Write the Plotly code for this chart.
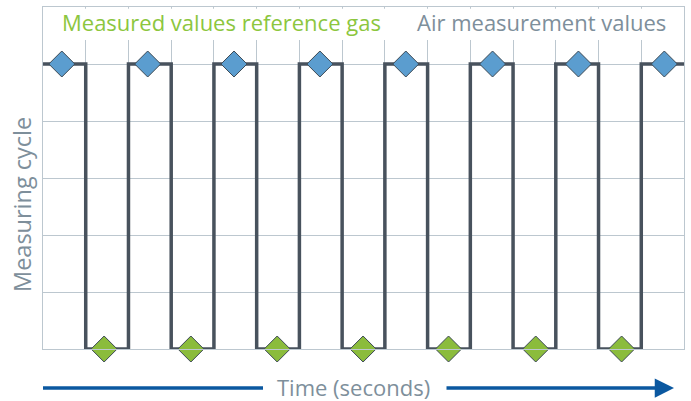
import plotly.graph_objects as go

# Square-wave measuring cycle: level per time interval (0 = low, 5 = high)
cycle_edges = list(range(0, 16))
cycle_levels = [5, 0, 5, 0, 5, 0, 5, 0, 5, 0, 5, 0, 5, 0, 5]

# Diamond markers
air_x = [0.44, 2.45, 4.47, 6.48, 8.49, 10.52, 12.53, 14.54]
air_y = [5] * 8
ref_x = [1.43, 3.46, 5.48, 7.49, 9.49, 11.53, 13.54]
ref_y = [0] * 7

label_ref = "Measured values reference gas"
label_air = "Air measurement values"
x_title = "Time (seconds)"
y_title = "Measuring cycle"

FONT = "Open Sans"
GRID = "#BCC7CF"
TXT = "#7E8F9B"
GREEN_T = "#8CC63E"
ARROW = "#0B58A0"

# build step path
wx, wy = [], []
for i, lvl in enumerate(cycle_levels):
    wx += [cycle_edges[i], cycle_edges[i] + 1]
    wy += [lvl, lvl]

fig = go.Figure()
fig.add_trace(go.Scatter(x=wx, y=wy, mode="lines",
                         line=dict(color="#48525D", width=3.5),
                         hoverinfo="skip", showlegend=False))
fig.add_trace(go.Scatter(x=air_x, y=air_y, mode="markers",
                         marker=dict(symbol="diamond", size=20, color="#5B9DCF",
                                     line=dict(color="#3D4A55", width=1)),
                         showlegend=False, cliponaxis=False))
fig.add_trace(go.Scatter(x=ref_x, y=ref_y, mode="markers",
                         marker=dict(symbol="diamond", size=20, color="#8BBC3C",
                                     line=dict(color="#3D4A55", width=1)),
                         showlegend=False, cliponaxis=False))

# white band hiding vertical gridlines behind header text
fig.add_shape(type="rect", xref="x", yref="y", x0=0.05, x1=14.95, y0=5.42, y1=5.97,
              fillcolor="white", line=dict(width=0), layer="between")

fig.add_annotation(x=(60 - 43) / 641, y=(349 - 22) / 342, xref="paper", yref="paper",
                   text=label_ref, showarrow=False, xanchor="left", yanchor="middle",
                   font=dict(family=FONT, size=22, color=GREEN_T))
fig.add_annotation(x=(668 - 43) / 641, y=(349 - 22) / 342, xref="paper", yref="paper",
                   text=label_air, showarrow=False, xanchor="right", yanchor="middle",
                   font=dict(family=FONT, size=22, color=TXT))

# y title
fig.add_annotation(x=(22 - 43) / 641, y=(349 - 205) / 342, xref="paper", yref="paper",
                   text=y_title, showarrow=False, textangle=-90,
                   xanchor="center", yanchor="middle",
                   font=dict(family=FONT, size=23.5, color=TXT))

# x title with arrow
ya = (349 - 388) / 342
fig.add_annotation(x=(353 - 43) / 641, y=(349 - 386.5) / 342, xref="paper", yref="paper",
                   text=x_title, showarrow=False, xanchor="center", yanchor="middle",
                   borderpad=0,
                   font=dict(family=FONT, size=22, color=TXT))
fig.add_shape(type="line", xref="paper", yref="paper", x0=0, x1=(263 - 43) / 641,
              y0=ya, y1=ya, line=dict(color=ARROW, width=3.5))
fig.add_annotation(x=(674 - 43) / 641, y=ya, xref="paper", yref="paper",
                   ax=-(674 - 445), ay=0, axref="pixel", ayref="pixel",
                   text="", showarrow=True, arrowhead=2, arrowsize=1.1,
                   arrowwidth=3.5, arrowcolor=ARROW, standoff=0, startstandoff=0)

fig.update_xaxes(range=[0, 15], dtick=1, tick0=0, showticklabels=False,
                 showgrid=True, gridcolor=GRID, gridwidth=1.3,
                 showline=True, linecolor=GRID, linewidth=1.3, mirror=True,
                 zeroline=False, ticks="")
fig.update_yaxes(range=[0, 6], dtick=1, tick0=0, showticklabels=False,
                 showgrid=True, gridcolor=GRID, gridwidth=1.3,
                 showline=True, linecolor=GRID, linewidth=1.3, mirror=True,
                 zeroline=False, ticks="")

fig.update_layout(width=691, height=401, margin=dict(l=43, r=7, t=7, b=52),
                  plot_bgcolor="white", paper_bgcolor="white")

fig.write_html("out.html", config={"displayModeBar": False},
               post_script="document.body.style.margin='0px';document.body.style.padding='0px';")
